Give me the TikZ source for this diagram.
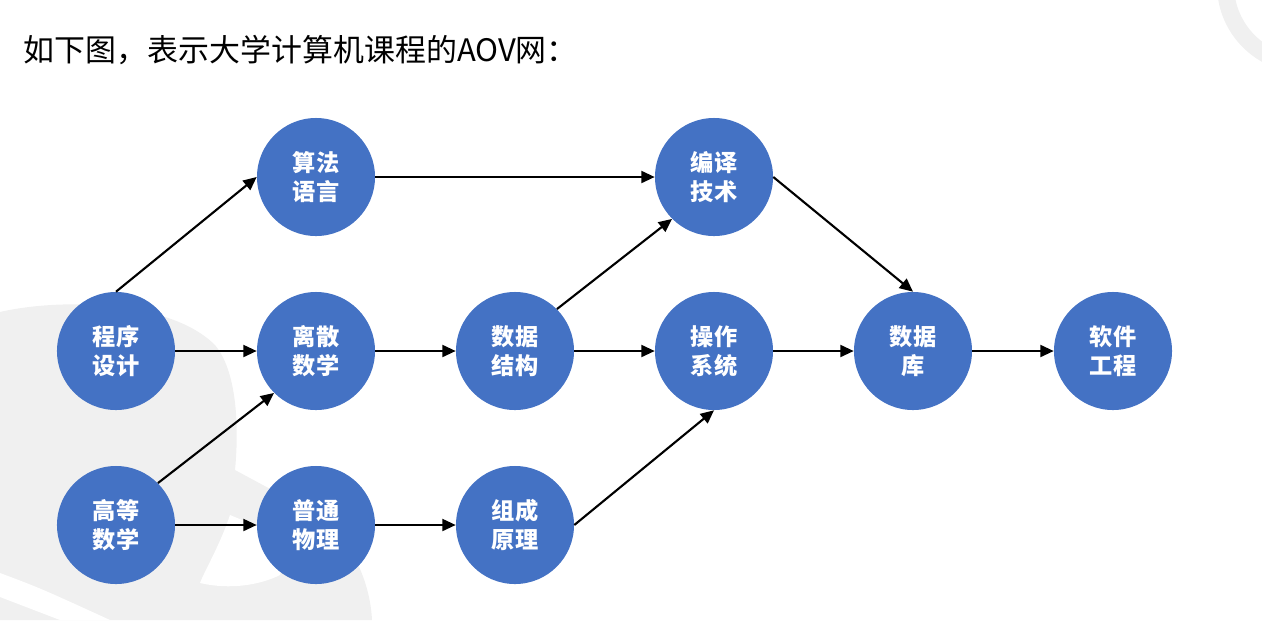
\documentclass[tikz,border=0pt]{standalone}
\usepackage{fontspec}
\newfontfamily\cjk{Noto Sans CJK SC}
\usetikzlibrary{arrows.meta}

\definecolor{nodeblue}{HTML}{4472C4}
\definecolor{markgray}{HTML}{F0F0F0}

\tikzset{
  course/.style={circle, fill=nodeblue, minimum size=2.95cm, inner sep=0pt,
    text=white, align=center, font=\cjk\bfseries\fontsize{16.5}{20.5}\selectfont},
  link/.style={line width=1.5pt, -{Triangle[length=9.5pt,width=8.5pt]}}
}

\begin{document}
\begin{tikzpicture}[x=0.025cm, y=-0.025cm]

  \useasboundingbox (0,0) rectangle (1262,620);
  \clip (0,0) rectangle (1262,620);

  % watermark in the background
  \fill[markgray] (0,312) .. controls (60,298) and (170,300) .. (215,345)
    .. controls (240,375) and (238,440) .. (235,470) -- (300,505)
    .. controls (350,530) and (370,580) .. (372,620) -- (0,620) -- cycle;
  \fill[white] (230,515) .. controls (220,545) and (205,570) .. (200,583)
    .. controls (230,590) and (260,585) .. (280,575) -- (290,540) -- cycle;
  \fill[white] (0,573) .. controls (40,588) .. (110,620) -- (60,620) .. controls (30,608) .. (0,597) -- cycle;
  \fill[markgray, even odd rule] (1305,-15) circle (2.2cm) (1305,-15) circle (1.775cm);

  \node[anchor=west, font=\cjk\fontsize{22}{26}\selectfont] (title) at (19,50) {如下图，表示大学计算机课程的AOV网：};

  \node[course] (prog) at (116,351) {程序\\设计};
  \node[course] (math) at (116,525) {高等\\数学};
  \node[course] (algo) at (316,177) {算法\\语言};
  \node[course] (disc) at (316,351) {离散\\数学};
  \node[course] (phys) at (316,525) {普通\\物理};
  \node[course] (ds)   at (515,351) {数据\\结构};
  \node[course] (org)  at (515,525) {组成\\原理};
  \node[course] (comp) at (714,177) {编译\\技术};
  \node[course] (os)   at (714,351) {操作\\系统};
  \node[course] (db)   at (913,351) {数据\\库};
  \node[course] (se)   at (1113,351) {软件\\工程};

  \draw[link] (prog.north) -- (algo.west);
  \draw[link] (prog.east) -- (disc.west);
  \draw[link] (math.north east) -- (disc.south west);
  \draw[link] (math.east) -- (phys.west);
  \draw[link] (algo.east) -- (comp.west);
  \draw[link] (disc.east) -- (ds.west);
  \draw[link] (phys.east) -- (org.west);
  \draw[link] (ds.north east) -- (comp.south west);
  \draw[link] (ds.east) -- (os.west);
  \draw[link] (org.east) -- (os.south);
  \draw[link] (comp.east) -- (db.north);
  \draw[link] (os.east) -- (db.west);
  \draw[link] (db.east) -- (se.west);

\end{tikzpicture}
\end{document}
